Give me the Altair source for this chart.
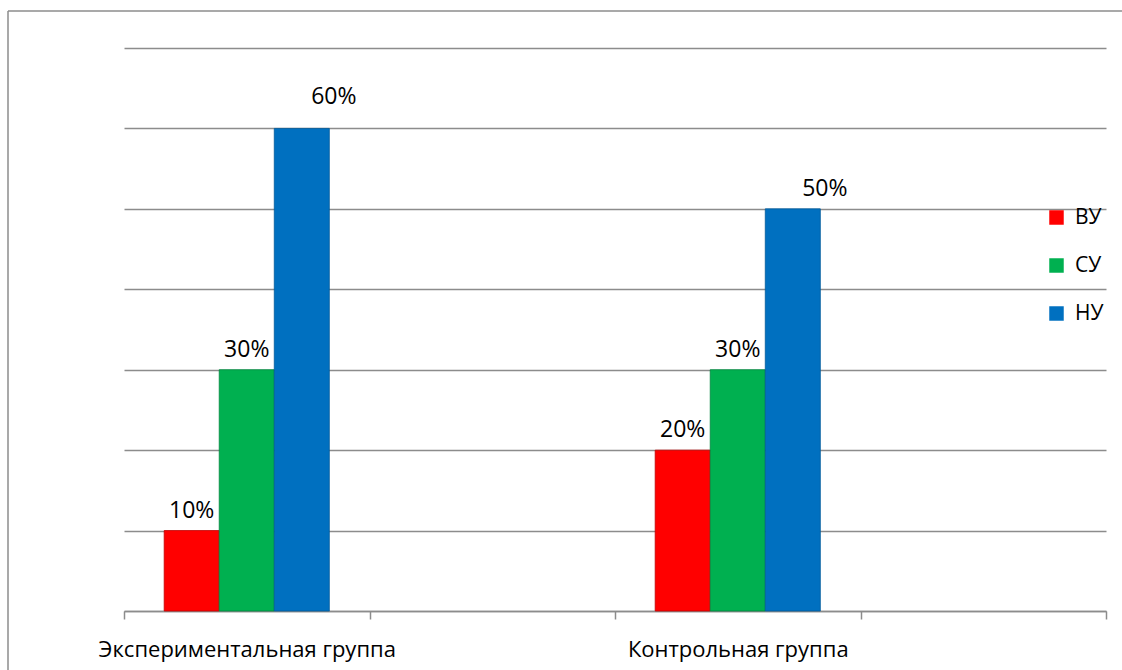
import altair as alt
import pandas as pd

# Levels shown for each group (share of pupils)
groups = ["Экспериментальная группа", "Контрольная группа"]
levels = ["ВУ", "СУ", "НУ"]
experimental = [0.10, 0.30, 0.60]
control = [0.20, 0.30, 0.50]
level_colors = ["#FF0000", "#00B050", "#0070C0"]
level_edges = ["#C00000", "#00873F", "#005A9A"]
y_ticks = [0, 0.1, 0.2, 0.3, 0.4, 0.5, 0.6, 0.7]

# The category axis has four equal slots; the 2nd and 4th stay empty
slots = [groups[0], "_gap1", groups[1], "_gap2"]

rows = []
for g, vals in zip(groups, [experimental, control]):
    for lvl, v in zip(levels, vals):
        rows.append({"group": g, "level": lvl, "value": v})
df = pd.DataFrame(rows)

FONT = "Open Sans"
GRID = "#8C8C8C"

x_scale = alt.Scale(domain=slots, paddingInner=0, paddingOuter=0)
y_scale = alt.Scale(domain=[0, 0.7], nice=False)
xoff = alt.XOffset(
    "level:N", sort=levels, scale=alt.Scale(paddingOuter=0.73, paddingInner=0)
)

base = alt.Chart(df).encode(
    x=alt.X(
        "group:N",
        scale=x_scale,
        axis=alt.Axis(
            title=None,
            orient="bottom",
            labelExpr="isValid(datum.value) && indexof(datum.value, '_') != 0 ? datum.value : ''",
            labelAngle=0,
            labelLimit=0,
            labelFont=FONT,
            labelFontSize=22,
            labelColor="#000000",
            labelPadding=20,
            tickBand="extent",
            tickSize=8,
            tickColor=GRID,
            tickWidth=1.5,
            domainColor=GRID,
            domainWidth=1.5,
            grid=False,
        ),
    ),
    xOffset=xoff,
    y=alt.Y(
        "value:Q",
        scale=y_scale,
        axis=alt.Axis(
            title=None,
            values=y_ticks,
            labels=False,
            ticks=False,
            domain=False,
            grid=True,
            gridColor=GRID,
            gridWidth=1.5,
        ),
    ),
)

bars = base.mark_bar(strokeWidth=0.8).encode(
    color=alt.Color(
        "level:N",
        sort=levels,
        scale=alt.Scale(domain=levels, range=level_colors),
        legend=alt.Legend(
            title=None,
            orient="none",
            legendX=922,
            legendY=159,
            symbolType="square",
            symbolSize=210,
            symbolStrokeWidth=0,
            labelFont=FONT,
            labelFontSize=21,
            labelColor="#000000",
            rowPadding=26,
            labelOffset=8,
        ),
    ),
    stroke=alt.Stroke(
        "level:N",
        sort=levels,
        scale=alt.Scale(domain=levels, range=level_edges),
        legend=None,
    ),
)

text_style = dict(font=FONT, fontSize=23, color="#000000", baseline="alphabetic")
label_text = alt.Text("value:Q", format=".0%")

# Value labels: ВУ and СУ centred over their bars
labels_low = (
    base.mark_text(dy=-13, **text_style)
    .encode(text=label_text)
    .transform_filter(alt.datum.level != levels[2])
)
# НУ labels sit a little to the right of their bars
labels_high = (
    base.mark_text(dx=32, dy=-13, **text_style)
    .encode(text=label_text)
    .transform_filter((alt.datum.level == levels[2]) & (alt.datum.group == groups[1]))
)
labels_top = (
    base.mark_text(dx=32, dy=-24, **text_style)
    .encode(text=label_text)
    .transform_filter((alt.datum.level == levels[2]) & (alt.datum.group == groups[0]))
)

# Chart-area frame: left and top edges, running to the edges of the canvas
edge = pd.DataFrame({"k": [0]})
frame_top = alt.Chart(edge).mark_rule(stroke=GRID, strokeWidth=1.5, clip=False).encode(
    x=alt.value(-116), x2=alt.value(998), y=alt.value(-37)
)
frame_left = alt.Chart(edge).mark_rule(stroke=GRID, strokeWidth=1.5, clip=False).encode(
    x=alt.value(-116), y=alt.value(-37), y2=alt.value(622)
)

chart = (
    alt.layer(frame_top, frame_left, bars, labels_low, labels_high, labels_top)
    .properties(
        width=982,
        height=563,
        autosize=alt.AutoSizeParams(type="none"),
        padding={"left": 124, "top": 48, "right": 16, "bottom": 59},
        background="#FFFFFF",
    )
    .configure_view(stroke=None)
)

chart.save("out.html", embed_options={"renderer": "svg", "actions": False})
